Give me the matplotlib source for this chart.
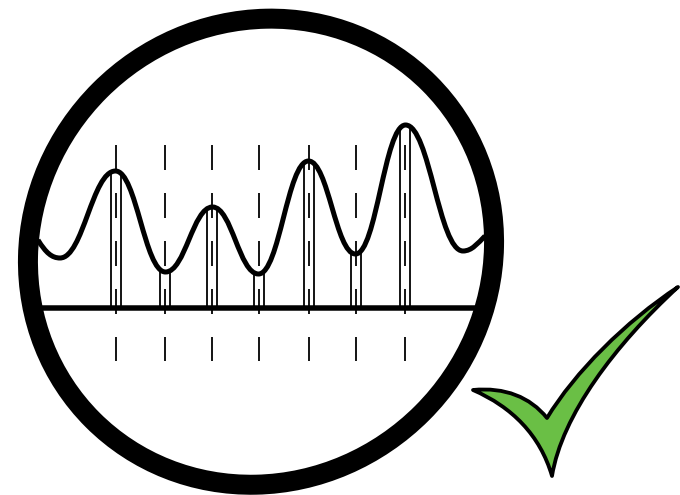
import numpy as np
import matplotlib
matplotlib.use('Agg')
import matplotlib.pyplot as plt
from matplotlib.patches import Ellipse, PathPatch
from matplotlib.path import Path

# everything is in picture pixels, y pointing down
# the curve is given by its turning points
turn_x = [60, 115.5, 165.5, 212.5, 258.5, 308.5, 355.5, 405.5, 463]
turn_y = [258, 171, 272, 207, 274, 161, 254, 125, 251]
end_left = (38, 240)
end_right = (485, 236)

peak_x = [115.7, 165.2, 212.3, 258.7, 309, 355.7, 405.3]
baseline_y = 308
bar_half = 5

tick_top = 145
tick_bottom = 361

# check mark outline: corners and the bezier handles between them
check_corners = [(473, 390), (547, 418), (678, 287), (552, 476)]
check_handles = [((505, 387), (530, 397)),
                 ((575, 372), (625, 322)),
                 ((615, 345), (562, 415)),
                 ((540, 435), (512, 407))]

def curve_path(k=0.42):
    # bezier between turning points, flat tangents at each one
    verts = [end_left, (46, 253), (52, 258), (turn_x[0], turn_y[0])]
    codes = [Path.MOVETO, Path.CURVE4, Path.CURVE4, Path.CURVE4]
    for i in range(len(turn_x) - 1):
        dx = turn_x[i + 1] - turn_x[i]
        verts += [(turn_x[i] + k * dx, turn_y[i]),
                  (turn_x[i + 1] - k * dx, turn_y[i + 1]),
                  (turn_x[i + 1], turn_y[i + 1])]
        codes += [Path.CURVE4] * 3
    verts += [(472, 251), (478, 243), end_right]
    codes += [Path.CURVE4] * 3
    return Path(verts, codes)

def check_path():
    verts = [check_corners[0]]
    codes = [Path.MOVETO]
    for i, (h1, h2) in enumerate(check_handles):
        verts += [h1, h2, check_corners[(i + 1) % len(check_corners)]]
        codes += [Path.CURVE4] * 3
    verts.append(check_corners[0])
    codes.append(Path.CLOSEPOLY)
    return Path(verts, codes)

fig = plt.figure(figsize=(6.8, 4.95), dpi=100)
ax = fig.add_axes([0, 0, 1, 1])
ax.set_xlim(0, 680)
ax.set_ylim(495, 0)
ax.axis('off')

px = 0.72  # one pixel in points

curve = curve_path()
flat = curve.to_polygons(closed_only=False)[0]

# dashed ticks
dash_w = 1.8 * px
for x in peak_x:
    ax.plot([x, x], [tick_top, tick_bottom], color='black', lw=dash_w,
            dashes=(25 * px / dash_w, 23 * px / dash_w), dash_capstyle='butt')

# pairs of thin lines from the curve to the axis
for x in peak_x:
    for side in (-bar_half, bar_half):
        top = np.interp(x + side, flat[:, 0], flat[:, 1])
        ax.plot([x + side, x + side], [top, baseline_y], color='black', lw=1.8 * px,
                solid_capstyle='butt')

ax.plot([40, 482], [baseline_y, baseline_y], color='black', lw=5.5 * px, solid_capstyle='butt')
ax.add_patch(PathPatch(curve, fill=False, edgecolor='black', lw=5 * px, capstyle='butt',
                       joinstyle='round'))

# the ring is a little tilted, long way to the upper right
ax.add_patch(Ellipse((261, 251.7), 476, 456, angle=-45, fill=False, edgecolor='black', lw=20 * px))

ax.add_patch(PathPatch(check_path(), facecolor='#6abf45', edgecolor='black', lw=3.8 * px,
                       joinstyle='round'))

fig.savefig('out.png', dpi=100)
